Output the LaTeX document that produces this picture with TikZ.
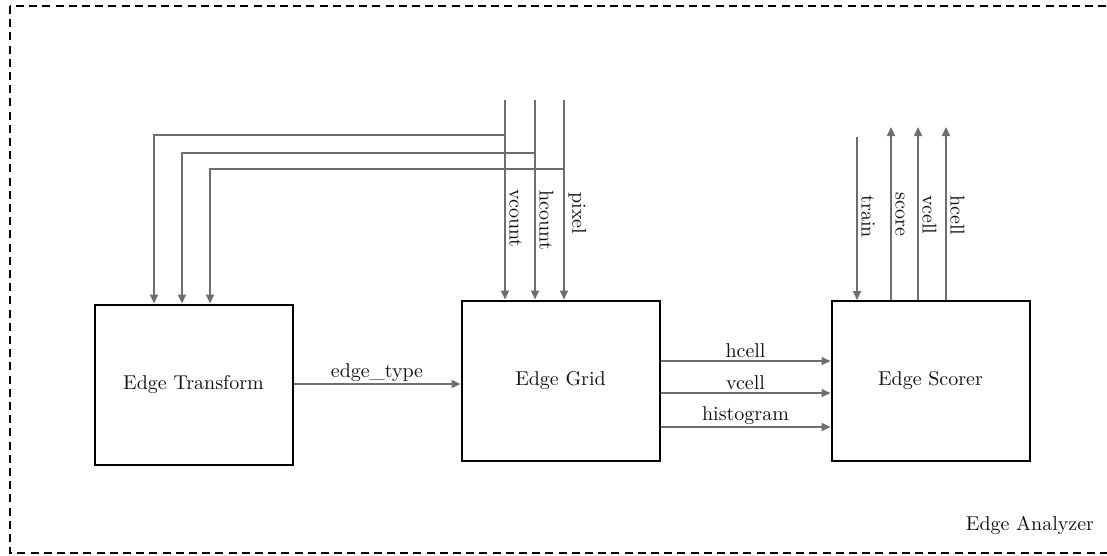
\documentclass[tikz,border=0pt]{standalone}
\usetikzlibrary{arrows.meta,calc}
\definecolor{sigcol}{HTML}{6E6E6E}
\definecolor{txtcol}{HTML}{111111}
\begin{document}
\begin{tikzpicture}[x=0.5pt,y=-0.5pt,
  blk/.style={draw=black,line width=1pt,minimum width=99pt,minimum height=80pt,inner sep=0pt,font=\normalsize,text=txtcol},
  sig/.style={draw=sigcol,line width=0.8pt,-{Triangle[length=4.5pt,width=4pt]}},
  lbl/.style={font=\normalsize,text=txtcol,inner sep=1pt},
  vlbl/.style={font=\normalsize,text=txtcol,inner sep=1pt,rotate=-90,anchor=south west},
  frame/.style={draw=black,line width=0.8pt,dash pattern=on 4pt off 2.6pt}]
\useasboundingbox (0,0) rectangle (1107,556);
\clip (0,0) rectangle (1107,556);
\draw[frame] (10,6) rectangle (1120,553);
\node[lbl] (ea) at (1030,525) {Edge Analyzer};

\node[blk] (T) at (193.5,384.5) {Edge Transform};
\node[blk] (G) at (560.5,380.5) {Edge Grid};
\node[blk] (S) at (930.5,381) {Edge Scorer};

% grid inputs
\coordinate (vtop) at (505,100);
\coordinate (htop) at (535,100);
\coordinate (ptop) at (564,100);
\draw[sig] (vtop) -- (vtop |- G.north);
\draw[sig] (htop) -- (htop |- G.north);
\draw[sig] (ptop) -- (ptop |- G.north);
\node[vlbl] (lv) at (507,187) {vcount};
\node[vlbl] (lh) at (537,188) {hcount};
\node[vlbl] (lp) at (566,190) {pixel};

% branches to transform
\coordinate (vb) at (505,135);
\coordinate (hb) at (535,153);
\coordinate (pb) at (564,169);
\coordinate (t1) at (154,135);
\coordinate (t2) at (182,153);
\coordinate (t3) at (210,169);
\draw[sig] (vb) -- (t1) -- (t1 |- T.north);
\draw[sig] (hb) -- (t2) -- (t2 |- T.north);
\draw[sig] (pb) -- (t3) -- (t3 |- T.north);

% edge_type
\coordinate (ey) at (0,384);
\draw[sig] (T.east |- ey) -- node[lbl,above] (let) {edge\_type} (G.west |- ey);

% grid to scorer
\coordinate (y1) at (0,361);
\coordinate (y2) at (0,393);
\coordinate (y3) at (0,427);
\draw[sig] (G.east |- y1) -- node[lbl,above] (l1) {hcell} (S.west |- y1);
\draw[sig] (G.east |- y2) -- node[lbl,above] (l2) {vcell} (S.west |- y2);
\draw[sig] (G.east |- y3) -- node[lbl,above] (l3) {histogram} (S.west |- y3);

% scorer top
\coordinate (tr) at (857,137);
\coordinate (sc) at (891,127);
\coordinate (vc) at (918,127);
\coordinate (hc) at (946,127);
\draw[sig] (tr) -- (tr |- S.north);
\draw[sig] (sc |- S.north) -- (sc);
\draw[sig] (vc |- S.north) -- (vc);
\draw[sig] (hc |- S.north) -- (hc);
\node[vlbl] (ltr) at (859,193) {train};
\node[vlbl] (lsc) at (893,190) {score};
\node[vlbl] (lvc) at (920,193) {vcell};
\node[vlbl] (lhc) at (948,193) {hcell};
\end{tikzpicture}
\end{document}
